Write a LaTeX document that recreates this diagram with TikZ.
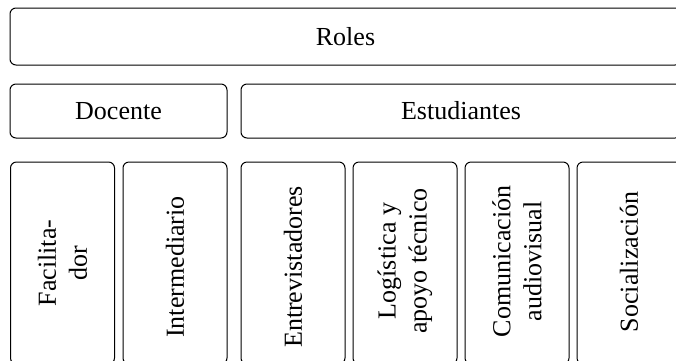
\documentclass[tikz,border=0pt]{standalone}
\usepackage{fontspec}
\setmainfont{Liberation Serif}
\usepackage{graphicx}
\begin{document}
\begin{tikzpicture}[x=1pt,y=-1pt,
  box/.style={draw=black, line width=1pt, rounded corners=6pt, inner sep=0pt,
    font=\fontsize{26}{31}\selectfont, align=center},
  vbox/.style={box, minimum width=104pt, minimum height=202pt},
  vtext/.style={inner sep=0pt, rotate=90, align=center, font=\fontsize{26}{31}\selectfont}]
\useasboundingbox (0,0) rectangle (676,360);
\clip (0,0) rectangle (676,360);
% top
\node[box, minimum width=671pt, minimum height=57pt] (roles) at (345.5,36.5) {Roles};
\node[box, minimum width=217pt, minimum height=54pt] (docente) at (118.5,111) {Docente};
\node[box, minimum width=440pt, minimum height=54pt] (estud) at (461,111) {Estudiantes};
% bottom boxes
\node[vbox] (fac) at (62.5,263) {};
\node[vbox] (int) at (175,263) {};
\node[vbox] (ent) at (293,263) {};
\node[vbox] (log) at (405,263) {};
\node[vbox] (com) at (517,263) {};
\node[vbox] (soc) at (629,263) {};
% vertical texts
\node[vtext] (tfac) at (62.5,263) {Facilita-\\dor};
\node[vtext] (tint) at (175,267) {Intermediario};
\node[vtext] (tent) at (293,267) {Entrevistadores};
\node[vtext] (tlog) at (405,261) {Logística y\\apoyo técnico};
\node[vtext] (tcom) at (517,261.5) {Comunicación\\audiovisual};
\node[vtext] (tsoc) at (629,262) {Socialización};
\end{tikzpicture}
\end{document}
